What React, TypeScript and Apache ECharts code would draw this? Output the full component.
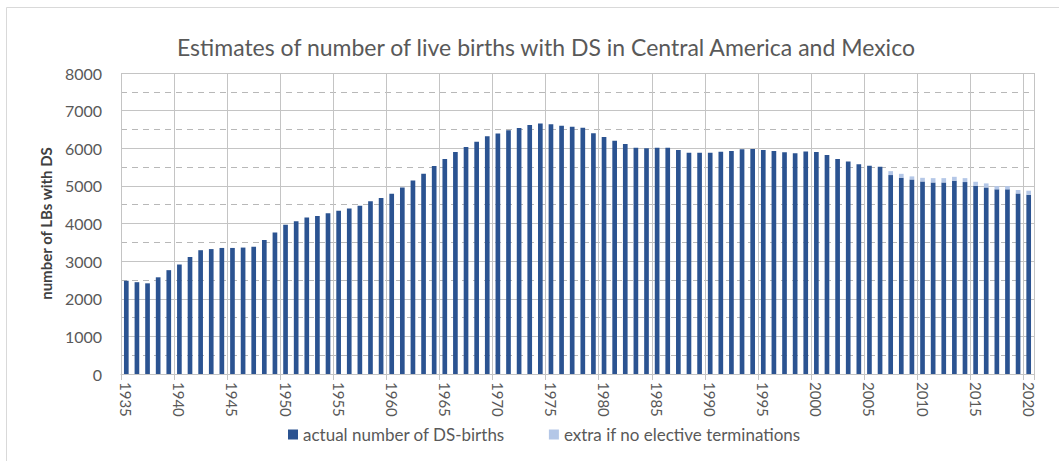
import React, { useEffect, useRef } from "react";
import * as echarts from "echarts";

const years: string[] = [];
for (let y = 1935; y <= 2020; y++) years.push(String(y));

const actual: number[] = [
  2480, 2440, 2410, 2570, 2760, 2910, 3110, 3290, 3320, 3350,
  3350, 3360, 3380, 3560, 3760, 3970, 4060, 4160, 4200, 4270,
  4340, 4400, 4470, 4590, 4680, 4790, 4960, 5140, 5325, 5530,
  5715, 5900, 6035, 6170, 6320, 6390, 6480, 6540, 6620, 6655,
  6635, 6600, 6570, 6548, 6396, 6300, 6200, 6114, 6016, 6000,
  6016, 6016, 5955, 5883, 5883, 5883, 5910, 5928, 5972, 5980,
  5955, 5928, 5892, 5866, 5912, 5903, 5823, 5717, 5648, 5577,
  5532, 5505, 5286, 5214, 5172, 5119, 5093, 5093, 5135, 5100,
  5003, 4960, 4907, 4907, 4800, 4765,
];

const extra: number[] = [
  0, 0, 0, 0, 0, 0, 0, 0, 0, 0,
  0, 0, 0, 0, 0, 0, 0, 0, 0, 0,
  0, 0, 0, 0, 0, 0, 0, 0, 0, 0,
  0, 0, 0, 0, 0, 0, 0, 0, 0, 0,
  0, 0, 0, 0, 0, 0, 0, 0, 0, 0,
  0, 0, 0, 0, 0, 0, 0, 0, 0, 0,
  0, 0, 0, 0, 0, 0, 0, 0, 0, 0,
  0, 0, 106, 106, 80, 95, 113, 113, 106, 106,
  106, 106, 88, 88, 90, 107,
];

const yTicks = { min: 0, max: 8000, interval: 1000 };

const FONT = "Lato";
const GRID = "#c4c4c4";
const DASH = "#b8b8b8";
const TEXT = "#595959";

export default function App() {
  const ref = useRef<HTMLDivElement>(null);
  useEffect(() => {
    if (!ref.current) return;
    const chart = echarts.init(ref.current, undefined, { renderer: "svg" });
    chart.setOption({
      animation: false,
      backgroundColor: "#ffffff",
      textStyle: { fontFamily: FONT },
      graphic: [
        {
          type: "rect",
          shape: { x: 6.5, y: 7.5, width: 1200, height: 600 },
          style: { fill: "none", stroke: "#d9d9d9", lineWidth: 1 },
          silent: true,
        },
      ],
      title: {
        text: "Estimates of number of live births with DS in Central America and Mexico",
        left: 172,
        top: 30,
        textStyle: { fontFamily: FONT, fontSize: 23, fontWeight: "normal", color: TEXT },
      },
      legend: {
        bottom: 13,
        left: 283,
        icon: "rect",
        itemWidth: 10,
        itemHeight: 10,
        itemGap: 44,
        textStyle: { fontFamily: FONT, fontSize: 17, color: TEXT },
        data: ["actual number of DS-births", "extra if no elective terminations"],
      },
      grid: { left: 121, right: 25, top: 73, bottom: 87, containLabel: false },
      xAxis: {
        type: "category",
        data: years,
        boundaryGap: true,
        axisLine: { show: true, lineStyle: { color: GRID, width: 1 } },
        axisTick: { show: true, interval: 4, length: 6, lineStyle: { color: GRID } },
        axisLabel: {
          interval: 4,
          rotate: -90,
          margin: 8,
          fontFamily: FONT,
          fontSize: 15,
          color: TEXT,
        },
        splitLine: { show: true, interval: 4, lineStyle: { color: GRID, width: 1 } },
      },
      yAxis: {
        type: "value",
        min: yTicks.min,
        max: yTicks.max,
        interval: yTicks.interval,
        name: "number of LBs with DS",
        nameLocation: "middle",
        nameGap: 66,
        nameRotate: 90,
        nameTextStyle: { fontFamily: FONT, fontSize: 15, fontWeight: "bold", color: "#404040" },
        axisLine: { show: false },
        axisTick: { show: false },
        axisLabel: {
          margin: 19,
          fontFamily: FONT,
          fontSize: 16,
          color: TEXT,
          formatter: (v: number) => String(v),
        },
        splitLine: { show: true, lineStyle: { color: GRID, width: 1 } },
        minorTick: { show: false, splitNumber: 2 },
        minorSplitLine: { show: true, lineStyle: { color: DASH, width: 1, type: [6, 5] } },
      },
      series: [
        {
          name: "actual number of DS-births",
          type: "bar",
          stack: "total",
          data: actual,
          barWidth: "44%",
          itemStyle: { color: "#2B5391" },
        },
        {
          name: "extra if no elective terminations",
          type: "bar",
          stack: "total",
          data: extra,
          barWidth: "44%",
          itemStyle: { color: "#B4C7E7" },
        },
      ],
    });
    return () => chart.dispose();
  }, []);
  return <div ref={ref} style={{ width: 1059, height: 461, position: "absolute", left: 0, top: 0 }} />;
}
